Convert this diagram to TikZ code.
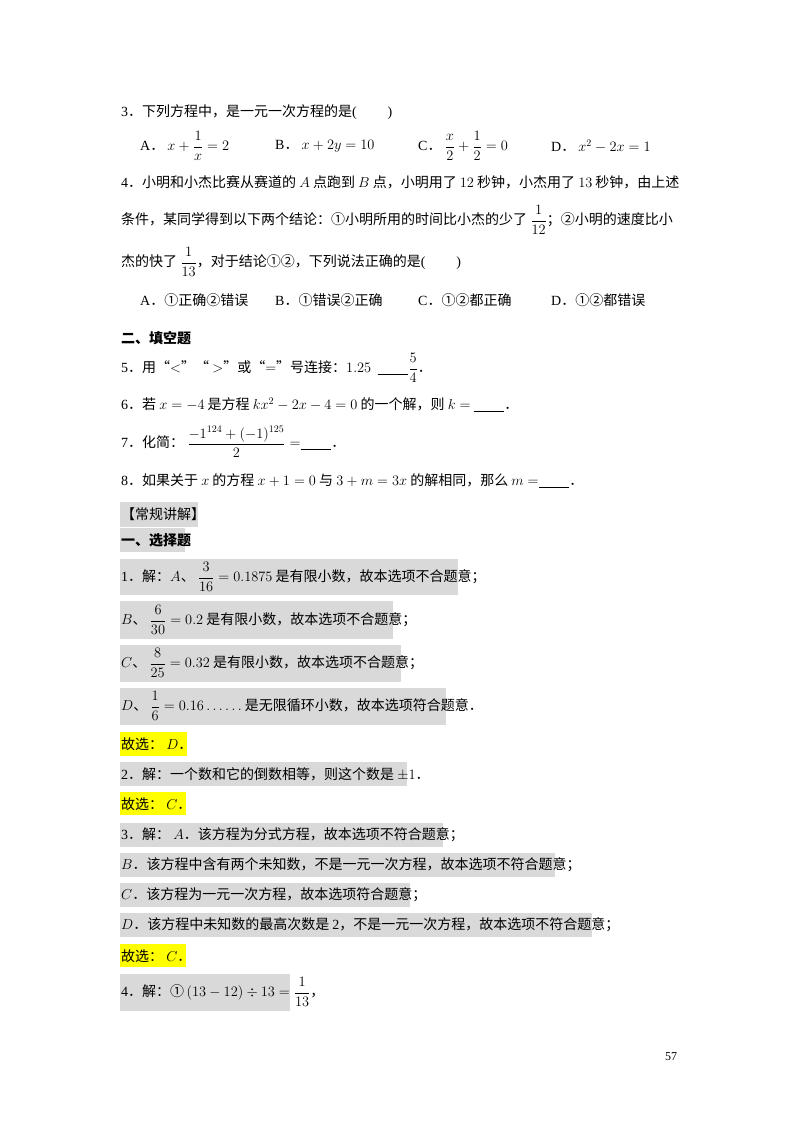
\documentclass[tikz,border=0pt]{standalone}
\usepackage{amsmath}
\usepackage{fontspec}
\setmainfont{Noto Sans CJK SC}
\newfontfamily\tm{Liberation Serif}
\definecolor{boxgray}{RGB}{217,217,217}
\definecolor{hiyel}{RGB}{255,255,0}
\newcommand{\blankline}{\underline{\hspace{2.2em}}}
\tikzset{
  txt/.style={anchor=west,inner sep=0pt,font=\fontsize{14}{17}\selectfont},
  gbox/.style={fill=boxgray},
  ybox/.style={fill=hiyel}
}
\begin{document}
\begin{tikzpicture}[x=1pt,y=-1pt]
\useasboundingbox[fill=white] (0,0) rectangle (800,1132);
% highlight boxes
\fill[gbox] (120,502) rectangle (198,527);
\fill[gbox] (120,528) rectangle (185,552);
\fill[gbox] (120,559) rectangle (458,595);
\fill[gbox] (120,601) rectangle (393,639);
\fill[gbox] (120,645) rectangle (401,682);
\fill[gbox] (120,688) rectangle (446,725);
\fill[ybox] (120,732) rectangle (187,756);
\fill[gbox] (120,762) rectangle (407,786);
\fill[ybox] (120,792) rectangle (186,815);
\fill[gbox] (120,823) rectangle (443,847);
\fill[gbox] (120,853) rectangle (555,877);
\fill[gbox] (120,883) rectangle (410,907);
\fill[gbox] (120,913) rectangle (592,937);
\fill[ybox] (120,944) rectangle (186,967);
\fill[gbox] (120,974) rectangle (290,1011);
% question 3
\node[txt] (q3) at (121,112) {{\tm 3}．下列方程中，是一元一次方程的是{\tm (\hspace{2.2em})}};
\node[txt] (q3a) at (140,146) {{\tm A}．\ $x+\dfrac{1}{x}=2$};
\node[txt] (q3b) at (275,146) {{\tm B}．\ $x+2y=10$};
\node[txt] (q3c) at (418,146) {{\tm C}．\ $\dfrac{x}{2}+\dfrac{1}{2}=0$};
\node[txt] (q3d) at (551,146) {{\tm D}．\ $x^2-2x=1$};
% question 4
\node[txt] (q4l1) at (121,182) {{\tm 4}．小明和小杰比赛从赛道的 $A$ 点跑到 $B$ 点，小明用了 $12$ 秒钟，小杰用了 $13$ 秒钟，由上述};
\node[txt] (q4l2) at (121,220) {条件，某同学得到以下两个结论：①小明所用的时间比小杰的少了 $\dfrac{1}{12}$；②小明的速度比小};
\node[txt] (q4l3) at (121,262) {杰的快了 $\dfrac{1}{13}$，对于结论①②，下列说法正确的是{\tm (\hspace{2.2em})}};
\node[txt] (q4a) at (140,300) {{\tm A}．①正确②错误};
\node[txt] (q4b) at (275,300) {{\tm B}．①错误②正确};
\node[txt] (q4c) at (418,300) {{\tm C}．①②都正确};
\node[txt] (q4d) at (551,300) {{\tm D}．①②都错误};
% fill-in
\node[txt,font=\fontsize{14}{17}\selectfont\bfseries] (h2) at (121,338) {二、填空题};
\node[txt] (q5) at (121,368) {{\tm 5}．用“$<$”“ $>$”或“$=$”号连接：$1.25$ \ \blankline$\dfrac{5}{4}$．};
\node[txt] (q6) at (121,405) {{\tm 6}．若 $x=-4$ 是方程 $kx^2-2x-4=0$ 的一个解，则 $k=$ \blankline．};
\node[txt] (q7) at (121,442) {{\tm 7}．化简：\ $\dfrac{-1^{124}+(-1)^{125}}{2}=$\blankline．};
\node[txt] (q8) at (121,481) {{\tm 8}．如果关于 $x$ 的方程 $x+1=0$ 与 $3+m=3x$ 的解相同，那么 $m=$\blankline．};
% explanation
\node[txt] (h3) at (121,514) {【常规讲解】};
\node[txt,font=\fontsize{14}{17}\selectfont\bfseries] (h4) at (121,540) {一、选择题};
\node[txt] (s1a) at (121,577) {{\tm 1}．解：$A$、\ $\dfrac{3}{16}=0.1875$ 是有限小数，故本选项不合题意；};
\node[txt] (s1b) at (121,620) {$B$、\ $\dfrac{6}{30}=0.2$ 是有限小数，故本选项不合题意；};
\node[txt] (s1c) at (121,663) {$C$、\ $\dfrac{8}{25}=0.32$ 是有限小数，故本选项不合题意；};
\node[txt] (s1d) at (121,706) {$D$、\ $\dfrac{1}{6}=0.16\ldots\ldots$ 是无限循环小数，故本选项符合题意．};
\node[txt] (s1e) at (121,744) {故选：\ $D$．};
\node[txt] (s2a) at (121,774) {{\tm 2}．解：一个数和它的倒数相等，则这个数是 $\pm1$．};
\node[txt] (s2b) at (121,804) {故选：\ $C$．};
\node[txt] (s3a) at (121,835) {{\tm 3}．解：\ $A$．该方程为分式方程，故本选项不符合题意；};
\node[txt] (s3b) at (121,865) {$B$．该方程中含有两个未知数，不是一元一次方程，故本选项不符合题意；};
\node[txt] (s3c) at (121,895) {$C$．该方程为一元一次方程，故本选项符合题意；};
\node[txt] (s3d) at (121,925) {$D$．该方程中未知数的最高次数是 {\tm 2}，不是一元一次方程，故本选项不符合题意；};
\node[txt] (s3e) at (121,956) {故选：\ $C$．};
\node[txt] (s4a) at (121,992) {{\tm 4}．解：①\,$(13-12)\div13=\dfrac{1}{13}$，};
\node[txt,font=\fontsize{12}{14}\selectfont\tm] (pg) at (665,1057) {57};
\end{tikzpicture}
\end{document}
